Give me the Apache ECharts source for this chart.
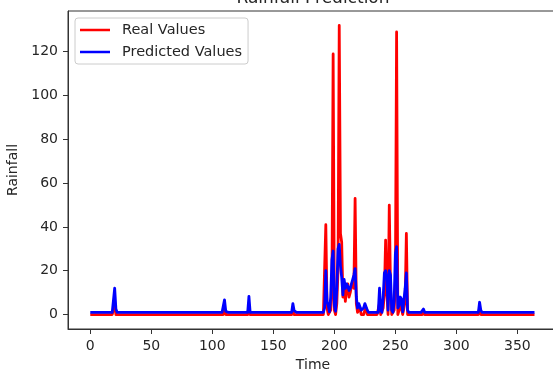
<!DOCTYPE html>
<html>
<head>
<meta charset="utf-8">
<script src="https://cdn.jsdelivr.net/npm/echarts@6.0.0/dist/echarts.min.js"></script>
<style>
html,body{margin:0;padding:0;background:#fff;overflow:hidden;}
#chart{width:553px;height:371px;}
</style>
</head>
<body>
<div id="chart"></div>
<script>
const chartTitle = 'Rainfall Prediction';
const xName = 'Time';
const yName = 'Rainfall';
const seriesNames = ['Real Values', 'Predicted Values'];
const xTicks = [0, 50, 100, 150, 200, 250, 300, 350];
const yTicks = [0, 20, 40, 60, 80, 100, 120];

// Real rainfall, one value per day (index = day 0..364)
const realValues = [
/*000*/ 0,0,0,0,0,0,0,0,0,0,0,0,0,0,0,0,0,0,0,0,
/*020*/ 5,0,0,0,0,0,0,0,0,0,0,0,0,0,0,0,0,0,0,0,
/*040*/ 0,0,0,0,0,0,0,0,0,0,0,0,0,0,0,0,0,0,0,0,
/*060*/ 0,0,0,0,0,0,0,0,0,0,0,0,0,0,0,0,0,0,0,0,
/*080*/ 0,0,0,0,0,0,0,0,0,0,0,0,0,0,0,0,0,0,0,0,
/*100*/ 0,0,0,0,0,0,0,0,0,0,3,0,0,0,0,0,0,0,0,0,
/*120*/ 0,0,0,0,0,0,0,0,0,0,4,0,0,0,0,0,0,0,0,0,
/*140*/ 0,0,0,0,0,0,0,0,0,0,0,0,0,0,0,0,0,0,0,0,
/*160*/ 0,0,0,0,0,0,2,0,0,0,0,0,0,0,0,0,0,0,0,0,
/*180*/ 0,0,0,0,0,0,0,0,0,0,0,0,0,41,3,0,0,2,10,119,
/*200*/ 2,0,5,20,132,37,33,8,14,6,12,14,8,10,13,15,12,53,5,1,
/*220*/ 2,3,0,0,0,2,3,0,0,0,0,0,0,0,0,0,0,5,0,0,
/*240*/ 3,10,34,10,0,50,12,0,0,2,15,129,0,0,4,3,0,0,6,37,
/*260*/ 0,0,0,0,0,0,0,0,0,0,0,0,0,1,0,0,0,0,0,0,
/*280*/ 0,0,0,0,0,0,0,0,0,0,0,0,0,0,0,0,0,0,0,0,
/*300*/ 0,0,0,0,0,0,0,0,0,0,0,0,0,0,0,0,0,0,0,3,
/*320*/ 0,0,0,0,0,0,0,0,0,0,0,0,0,0,0,0,0,0,0,0,
/*340*/ 0,0,0,0,0,0,0,0,0,0,0,0,0,0,0,0,0,0,0,0,
/*360*/ 0,0,0,0,0
];

// Predicted rainfall, one value per day (index = day 0..364)
const predictedValues = [
/*000*/ 1,1,1,1,1,1,1,1,1,1,1,1,1,1,1,1,1,1,1,1,
/*020*/ 12,2.5,1,1,1,1,1,1,1,1,1,1,1,1,1,1,1,1,1,1,
/*040*/ 1,1,1,1,1,1,1,1,1,1,1,1,1,1,1,1,1,1,1,1,
/*060*/ 1,1,1,1,1,1,1,1,1,1,1,1,1,1,1,1,1,1,1,1,
/*080*/ 1,1,1,1,1,1,1,1,1,1,1,1,1,1,1,1,1,1,1,1,
/*100*/ 1,1,1,1,1,1,1,1,1,1,6.7,1.5,1,1,1,1,1,1,1,1,
/*120*/ 1,1,1,1,1,1,1,1,1,1,8.3,1,1,1,1,1,1,1,1,1,
/*140*/ 1,1,1,1,1,1,1,1,1,1,1,1,1,1,1,1,1,1,1,1,
/*160*/ 1,1,1,1,1,1,5,1.8,1,1,1,1,1,1,1,1,1,1,1,1,
/*180*/ 1,1,1,1,1,1,1,1,1,1,1,1,3,20,6,4,1.2,8,25,29,
/*200*/ 4,1.5,12,30,32,22,17,9,16,12,14,13,11,12,14,16,18,21,8,3,
/*220*/ 5,5,2,1.2,3,5,5,2,1,1,1,1,1,1,1,1,1,12,2,1,
/*240*/ 8,19,20,17,2,20,18,2,1,6,28,31,3,4,8,7,1.2,1,12,19,
/*260*/ 2,1,1,1,1,1,1,1,1,1,1,1,1,2.5,1,1,1,1,1,1,
/*280*/ 1,1,1,1,1,1,1,1,1,1,1,1,1,1,1,1,1,1,1,1,
/*300*/ 1,1,1,1,1,1,1,1,1,1,1,1,1,1,1,1,1,1,1,5.6,
/*320*/ 2,1,1,1,1,1,1,1,1,1,1,1,1,1,1,1,1,1,1,1,
/*340*/ 1,1,1,1,1,1,1,1,1,1,1,1,1,1,1,1,1,1,1,1,
/*360*/ 1,1,1,1,1
];

const FONT = 'DejaVu Sans';
const TXT = '#262626';
const AX = '#333';

const realData = realValues.map((v, i) => [i, v]);
const predData = predictedValues.map((v, i) => [i, v]);

const chart = echarts.init(document.getElementById('chart'), null, {renderer: 'canvas'});
chart.setOption({
  animation: false,
  backgroundColor: '#fff',
  textStyle: {fontFamily: FONT},
  graphic: [{
    type: 'text', x: 313, y: 7, silent: true,
    style: {
      text: chartTitle, align: 'center', verticalAlign: 'bottom',
      fontFamily: FONT, fontSize: 17, fill: TXT
    }
  }],
  grid: {
    left: 68, top: 11, width: 490, height: 318,
    show: true, borderColor: AX, borderWidth: 1, backgroundColor: 'transparent',
    containLabel: false, outerBoundsMode: 'none'
  },
  legend: {
    orient: 'vertical', left: 75, top: 18,
    data: [{name: seriesNames[0], icon: 'rect'}, {name: seriesNames[1], icon: 'rect'}],
    itemWidth: 30, itemHeight: 2.5, itemGap: 6,
    padding: [4, 6, 4, 5],
    borderColor: '#cccccc', borderWidth: 1, borderRadius: 3,
    backgroundColor: 'rgba(255,255,255,0.8)',
    textStyle: {fontFamily: FONT, fontSize: 14.5, color: TXT, lineHeight: 16, padding: [0, 0, 0, 7]}
  },
  xAxis: {
    type: 'value', min: -18.25, max: 383.25,
    name: xName, nameLocation: 'middle', nameGap: 28,
    nameTextStyle: {fontFamily: FONT, fontSize: 14, color: TXT},
    axisLine: {show: true, onZero: false, lineStyle: {color: AX, width: 1}},
    axisTick: {show: true, inside: false, length: 5, customValues: xTicks, lineStyle: {color: AX}},
    axisLabel: {customValues: xTicks, margin: 10, fontFamily: FONT, fontSize: 14, color: TXT},
    splitLine: {show: false}
  },
  yAxis: {
    type: 'value', min: -6.6, max: 138.6,
    name: yName, nameLocation: 'middle', nameGap: 44,
    nameTextStyle: {fontFamily: FONT, fontSize: 14, color: TXT},
    axisLine: {show: true, onZero: false, lineStyle: {color: AX, width: 1}},
    axisTick: {show: true, inside: false, length: 5, customValues: yTicks, lineStyle: {color: AX}},
    axisLabel: {customValues: yTicks, margin: 10, fontFamily: FONT, fontSize: 14, color: TXT},
    splitLine: {show: false}
  },
  series: [
    {
      name: seriesNames[0], type: 'line', data: realData,
      showSymbol: false, symbol: 'none', color: '#ff0000',
      lineStyle: {color: '#ff0000', width: 2.8, join: 'round'}
    },
    {
      name: seriesNames[1], type: 'line', data: predData,
      showSymbol: false, symbol: 'none', color: '#0000ff',
      lineStyle: {color: '#0000ff', width: 2.8, join: 'round'}
    }
  ]
});
</script>
</body>
</html>
